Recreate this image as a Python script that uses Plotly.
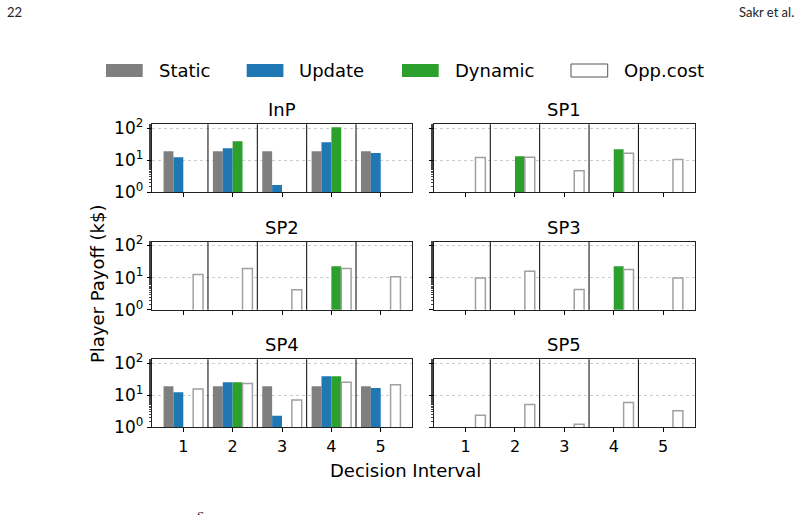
import plotly.graph_objects as go

# ---------------- data ----------------
intervals = [1, 2, 3, 4, 5]
players = ["InP", "SP1", "SP2", "SP3", "SP4", "SP5"]
series_names = ["Static", "Update", "Dynamic", "Opp.cost"]

inp_static = [19, 19, 19, 19, 19]
inp_update = [12.4, 23.5, 1.7, 36, 16.8]
inp_dynamic = [None, 39, None, 105, None]
inp_opp = [None, None, None, None, None]

sp1_static = [None, None, None, None, None]
sp1_update = [None, None, None, None, None]
sp1_dynamic = [None, 13.3, None, 21.9, None]
sp1_opp = [12.0, 12.4, 4.7, 16.5, 10.5]

sp2_static = [None, None, None, None, None]
sp2_update = [None, None, None, None, None]
sp2_dynamic = [None, None, None, 22.6, None]
sp2_opp = [12.5, 19.2, 4.2, 19.2, 10.6]

sp3_static = [None, None, None, None, None]
sp3_update = [None, None, None, None, None]
sp3_dynamic = [None, None, None, 22.6, None]
sp3_opp = [9.7, 15.9, 4.3, 17.9, 9.7]

sp4_static = [19, 19, 19, 19, 19]
sp4_update = [12.4, 25.3, 2.3, 38.7, 16.8]
sp4_dynamic = [None, 25.3, None, 38.7, None]
sp4_opp = [15.6, 23, 7.1, 25, 21]

sp5_static = [None, None, None, None, None]
sp5_update = [None, None, None, None, None]
sp5_dynamic = [None, None, None, None, None]
sp5_opp = [2.35, 5.1, 1.24, 5.9, 3.3]

ytick_vals = [1, 10, 100]
ytick_text = ["10<sup>0</sup>", "10<sup>1</sup>", "10<sup>2</sup>"]

data = {
    "InP": [inp_static, inp_update, inp_dynamic, inp_opp],
    "SP1": [sp1_static, sp1_update, sp1_dynamic, sp1_opp],
    "SP2": [sp2_static, sp2_update, sp2_dynamic, sp2_opp],
    "SP3": [sp3_static, sp3_update, sp3_dynamic, sp3_opp],
    "SP4": [sp4_static, sp4_update, sp4_dynamic, sp4_opp],
    "SP5": [sp5_static, sp5_update, sp5_dynamic, sp5_opp],
}

# ---------------- style ----------------
W, H = 801, 515
FONT = "DejaVu Sans"
fill_colors = ["#7f7f7f", "#1f77b4", "#2ca02c", "#ffffff"]
line_colors = [None, None, None, "#a0a0a0"]
bar_w = 0.2

col_px = [(151.7, 412.3), (434.0, 694.7)]
row_px = [(124.3, 192.3), (241.8, 309.8), (359.3, 427.3)]


def px_x(v):
    return v / W


def px_y(v):
    return 1 - v / H


fig = go.Figure()
layout = dict(
    width=W, height=H, autosize=False,
    margin=dict(l=0, r=0, t=0, b=0, pad=0, autoexpand=False),
    paper_bgcolor="white", plot_bgcolor="white",
    barmode="overlay", showlegend=False,
    font=dict(family=FONT, color="black"),
)
shapes = []
annotations = []

for k, p in enumerate(players):
    r, c = divmod(k, 2)
    ax = k + 1
    xs = "x" if ax == 1 else f"x{ax}"
    ys = "y" if ax == 1 else f"y{ax}"
    for j, name in enumerate(series_names):
        vals = data[p][j]
        mk = dict(color=fill_colors[j])
        if line_colors[j]:
            mk["line"] = dict(color=line_colors[j], width=1.5)
        else:
            mk["line"] = dict(width=0)
        fig.add_trace(go.Bar(
            x=intervals, y=vals, name=name, xaxis=xs, yaxis=ys,
            width=bar_w, offset=-2 * bar_w + j * bar_w, marker=mk,
            hoverinfo="x+y+name",
        ))
    x0, x1 = col_px[c]
    y0, y1 = row_px[r]
    layout[f"xaxis{'' if ax == 1 else ax}"] = dict(
        domain=[px_x(x0), px_x(x1)], anchor=ys, automargin=False,
        range=[intervals[0] - 0.64, intervals[-1] + 0.64],
        tickvals=intervals, ticktext=[str(i) for i in intervals],
        showticklabels=(r == 2), ticks="outside", ticklen=4,
        tickcolor="black", tickfont=dict(size=16, family=FONT),
        showline=True, mirror=True, linecolor="#222222", linewidth=1,
        showgrid=False, zeroline=False,
    )
    layout[f"yaxis{'' if ax == 1 else ax}"] = dict(
        domain=[px_y(y1), px_y(y0)], anchor=xs, type="log", automargin=False,
        range=[0, 2.115],
        tickvals=ytick_vals, ticktext=ytick_text,
        showticklabels=(c == 0), ticks="outside", ticklen=4,
        tickcolor="black", tickfont=dict(size=17, family=FONT),
        showline=True, mirror=True, linecolor="#222222", linewidth=1,
        showgrid=True, gridcolor="#cccccc", gridwidth=0.8, griddash="dot",
        zeroline=False,
        minor=dict(ticks="outside", ticklen=2, tickcolor="#444444", showgrid=False),
    )
    # separators between decision intervals
    for i in range(len(intervals) - 1):
        sx = (intervals[i] + intervals[i + 1]) / 2
        shapes.append(dict(type="line", xref=xs, yref=f"{ys} domain",
                           x0=sx, x1=sx, y0=0, y1=1,
                           line=dict(color="black", width=1), layer="above"))
    annotations.append(dict(
        text=p, xref="paper", yref="paper",
        x=px_x((x0 + x1) / 2), y=px_y(y0 - 2),
        xanchor="center", yanchor="bottom", showarrow=False,
        font=dict(size=18, family=FONT, color="black"),
    ))

# axis titles
annotations.append(dict(text="Player Payoff (k$)", xref="paper", yref="paper",
                        x=px_x(97), y=px_y(284), textangle=-90,
                        xanchor="center", yanchor="middle", showarrow=False,
                        font=dict(size=18, family=FONT, color="black")))
annotations.append(dict(text="Decision Interval", xref="paper", yref="paper",
                        x=px_x(405), y=px_y(470),
                        xanchor="center", yanchor="middle", showarrow=False,
                        font=dict(size=18, family=FONT, color="black")))

# manual legend
legend_px = [(106, 158.3), (246.7, 298), (402, 453.6), (571, 623)]
for j, name in enumerate(series_names):
    lx, tx = legend_px[j]
    shapes.append(dict(type="rect", xref="paper", yref="paper",
                       x0=px_x(lx), x1=px_x(lx + 36.7),
                       y0=px_y(77), y1=px_y(64),
                       fillcolor=fill_colors[j],
                       line=dict(color="#555555" if line_colors[j] else fill_colors[j],
                                 width=1 if line_colors[j] else 0)))
    annotations.append(dict(text=name, xref="paper", yref="paper",
                            x=px_x(tx - 1), y=px_y(70.5),
                            xanchor="left", yanchor="middle", showarrow=False,
                            font=dict(size=18, family=FONT, color="black")))

# page header
HF = "Liberation Sans Narrow, Lato, sans-serif"
annotations.append(dict(text="22", xref="paper", yref="paper",
                        x=px_x(5), y=px_y(12), xanchor="left", yanchor="middle",
                        showarrow=False, font=dict(size=13, family=HF, color="#222222")))
annotations.append(dict(text="Sakr et al.", xref="paper", yref="paper",
                        x=px_x(796), y=px_y(12), xanchor="right", yanchor="middle",
                        showarrow=False, font=dict(size=13, family=HF, color="#222222")))
# clipped glyph of the next text line at the page bottom
annotations.append(dict(text="S", xref="paper", yref="paper",
                        x=px_x(200), y=px_y(506), xanchor="center", yanchor="top",
                        showarrow=False,
                        font=dict(size=13, family="Liberation Serif, serif", color="#222222")))

layout["shapes"] = shapes
layout["annotations"] = annotations
fig.update_layout(**layout)
fig.write_html("out.html")
